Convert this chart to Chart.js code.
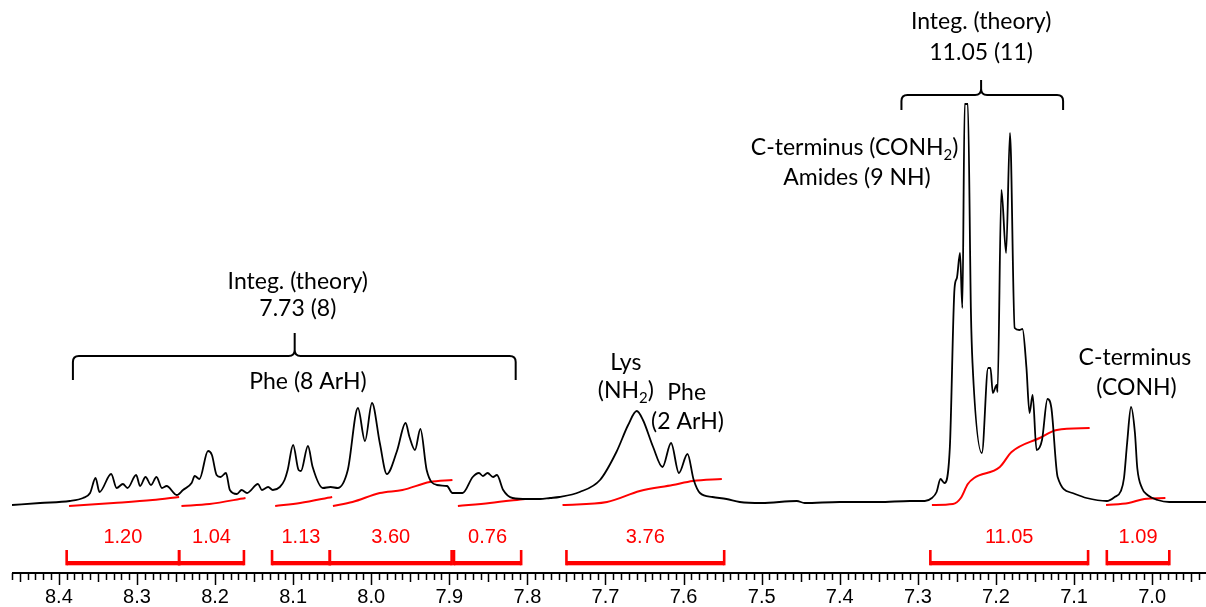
<!DOCTYPE html>
<html>
<head>
<meta charset="utf-8">
<script src="https://cdn.jsdelivr.net/npm/chart.js@4.4.0/dist/chart.umd.min.js"></script>
<style>
  html, body { margin: 0; padding: 0; background: #fff; }
  #wrap { width: 1206px; height: 607px; }
</style>
</head>
<body>
<div id="wrap"><canvas id="nmr"></canvas></div>
<script>
// 1H NMR trace: chemical shift (ppm) and intensity (a.u.)
const shiftPpm = [8.460, 8.424, 8.386, 8.369, 8.360, 8.353, 8.348, 8.333, 8.326, 8.318, 8.312, 8.301, 8.296, 8.289, 8.282, 8.275, 8.268, 8.262, 8.249, 8.241,
  8.230, 8.226, 8.220, 8.209, 8.204, 8.198, 8.193, 8.186, 8.181, 8.172, 8.166, 8.159, 8.145, 8.140, 8.132, 8.126, 8.117, 8.111, 8.107, 8.100,
  8.093, 8.090, 8.081, 8.075, 8.062, 8.052, 8.043, 8.030, 8.017, 8.008, 7.999, 7.989, 7.980, 7.967, 7.956, 7.951, 7.944, 7.937, 7.929, 7.916,
  7.903, 7.896, 7.883, 7.870, 7.862, 7.857, 7.851, 7.844, 7.839, 7.831, 7.819, 7.800, 7.784, 7.771, 7.759, 7.733, 7.707, 7.686, 7.671, 7.660,
  7.652, 7.639, 7.627, 7.616, 7.606, 7.595, 7.587, 7.579, 7.563, 7.545, 7.528, 7.500, 7.455, 7.445, 7.400, 7.350, 7.310, 7.291, 7.282, 7.276,
  7.271, 7.266, 7.259, 7.253, 7.250, 7.246, 7.243, 7.240, 7.236, 7.232, 7.230, 7.218, 7.210, 7.207, 7.204, 7.199, 7.198, 7.193, 7.187, 7.182,
  7.176, 7.170, 7.166, 7.161, 7.157, 7.153, 7.148, 7.141, 7.134, 7.129, 7.121, 7.102, 7.084, 7.058, 7.048, 7.040, 7.036, 7.032, 7.027, 7.022,
  7.019, 7.013, 7.006, 6.993, 6.978, 6.931];
const intensity = [-2, 0, 2, 5, 10, 25, 11, 29, 15, 19, 15, 28, 17, 26, 18, 26, 15, 17, 8, 13,
  20, 27, 24, 52, 48, 28, 26, 30, 13, 9, 13, 10, 19, 13, 16, 13, 16, 23, 33, 58,
  33, 32, 57, 36, 15, 16, 15, 33, 95, 62, 100, 60, 29, 52, 80, 66, 53, 74, 33, 18,
  17, 10, 10, 26, 30, 27, 30, 26, 28, 13, 5, 4, 4, 5, 6, 11, 23, 51, 78, 92,
  83, 56, 36, 60, 30, 49, 23, 10, 6, 4, 1, 0, 2, 0, 1, 1, 2, 2, 5, 11,
  24, 20, 56, 215, 225, 250, 195, 399, 399, 190, 140, 50, 135, 135, 110, 118, 111, 313, 250, 370,
  175, 173, 174, 136, 90, 108, 53, 63, 104, 95, 26, 10, 5, 2, 6, 12, 25, 60, 96, 70,
  35, 15, 8, 3, 1, 1];

// integral curves [ppm, value]
const integ120 = [[8.387, -3], [8.330, 0], [8.280, 3], [8.246, 6]];
const integ104 = [[8.243, -3], [8.207, -1], [8.161, 5]];
const integ113 = [[8.123, -3], [8.091, 0], [8.050, 6]];
const integ360 = [[8.049, -3], [8.024, 1], [7.989, 10], [7.960, 13], [7.925, 21], [7.896, 23]];
const integ076 = [[7.889, -3], [7.848, 0], [7.803, 4]];
const integ376 = [[7.755, -2], [7.698, 1], [7.656, 12], [7.614, 18], [7.588, 22], [7.551, 24]];
const integ1105 = [[7.282, -2], [7.255, -1], [7.245, 5], [7.236, 19], [7.228, 25], [7.195, 36], [7.180, 51], [7.144, 65], [7.122, 73], [7.080, 75]];
const integ109 = [[7.059, -2], [7.030, 0], [7.010, 4], [6.983, 5]];

// integration ranges and their values
const integLabels = ['1.20', '1.04', '1.13', '3.60', '0.76', '3.76', '11.05', '1.09'];
const integFrom = [8.390, 8.246, 8.127, 8.053, 7.894, 7.750, 7.284, 7.058];
const integTo = [8.246, 8.163, 8.053, 7.897, 7.808, 7.548, 7.082, 6.978];

const axisTicks = [8.4, 8.3, 8.2, 8.1, 8.0, 7.9, 7.8, 7.7, 7.6, 7.5, 7.4, 7.3, 7.2, 7.1, 7.0];

const RED = '#ff0000';
const NOTE_FONT = 'Lato';

// text notes, positioned in data units
const notes = [
  { parts: [{ t: 'Integ. (theory)' }], ppm: 8.094, val: 221 },
  { parts: [{ t: '7.73 (8)' }], ppm: 8.094, val: 194 },
  { parts: [{ t: 'Phe (8 ArH)' }], ppm: 8.081, val: 121 },
  { parts: [{ t: 'Integ. (theory)' }], ppm: 7.219, val: 481 },
  { parts: [{ t: '11.05 (11)' }], ppm: 7.219, val: 450 },
  { parts: [{ t: 'C-terminus (CONH' }, { t: '2', sub: true }, { t: ')' }], ppm: 7.381, val: 355 },
  { parts: [{ t: 'Amides (9 NH)' }], ppm: 7.378, val: 325 },
  { parts: [{ t: 'C-terminus' }], ppm: 7.022, val: 145 },
  { parts: [{ t: '(CONH)' }], ppm: 7.020, val: 115 },
  { parts: [{ t: 'Lys' }], ppm: 7.674, val: 140 },
  { parts: [{ t: '(NH' }, { t: '2', sub: true }, { t: ')' }], ppm: 7.674, val: 112 },
  { parts: [{ t: 'Phe' }], ppm: 7.596, val: 110 },
  { parts: [{ t: '(2 ArH)' }], ppm: 7.595, val: 81 }
];

const braces = [
  { from: 8.382, to: 7.815, tip: 8.098, line: 147, ends: 123, top: 170 },
  { from: 7.321, to: 7.114, tip: 7.219, line: 408, ends: 393, top: 423 }
];

function toPoints(arr) {
  return arr.map(([p, v]) => ({ x: p, y: v }));
}

function drawRich(ctx, parts, cx, cy, size) {
  let w = 0;
  parts.forEach(p => {
    ctx.font = (p.sub ? size * 0.65 : size) + 'px ' + NOTE_FONT;
    w += ctx.measureText(p.t).width;
  });
  let xx = cx - w / 2;
  parts.forEach(p => {
    ctx.font = (p.sub ? size * 0.65 : size) + 'px ' + NOTE_FONT;
    ctx.fillText(p.t, xx, cy + (p.sub ? size * 0.3 : 0));
    xx += ctx.measureText(p.t).width;
  });
}

const nmrDecor = {
  id: 'nmrDecor',
  afterDraw(chart) {
    const { ctx, chartArea } = chart;
    const x = chart.scales.x, y = chart.scales.y;
    ctx.save();

    // axis line and ticks
    ctx.strokeStyle = '#000';
    ctx.lineWidth = 2;
    ctx.beginPath();
    ctx.moveTo(chartArea.left, chartArea.bottom);
    ctx.lineTo(chartArea.right, chartArea.bottom);
    ctx.stroke();
    ctx.lineWidth = 1.5;
    ctx.beginPath();
    for (let k = Math.ceil(x.min * 100); k <= Math.floor(x.max * 100); k++) {
      const px = Math.round(x.getPixelForValue(k / 100)) + 0.5;
      const len = k % 10 === 0 ? 12 : (k % 5 === 0 ? 9 : 7);
      ctx.moveTo(px, chartArea.bottom);
      ctx.lineTo(px, chartArea.bottom + len);
    }
    ctx.stroke();

    // integration brackets
    ctx.fillStyle = RED;
    ctx.textAlign = 'center';
    ctx.textBaseline = 'middle';
    const yBar = y.getPixelForValue(-60), yEnd = y.getPixelForValue(-47), yLab = y.getPixelForValue(-34);
    integFrom.forEach((f, i) => {
      const a = x.getPixelForValue(f), b = x.getPixelForValue(integTo[i]);
      ctx.fillRect(a, yBar - 2, b - a, 4.3);
      ctx.fillRect(a - 1.3, yEnd, 2.6, yBar + 2.3 - yEnd);
      ctx.fillRect(b - 1.3, yEnd, 2.6, yBar + 2.3 - yEnd);
      ctx.font = '20px "Liberation Sans", Arial';
      ctx.fillText(integLabels[i], (a + b) / 2, yLab);
    });

    // braces
    ctx.strokeStyle = '#000';
    ctx.lineWidth = 2;
    braces.forEach(b => {
      const L = x.getPixelForValue(b.from), R = x.getPixelForValue(b.to), C = x.getPixelForValue(b.tip);
      const yl = y.getPixelForValue(b.line), ye = y.getPixelForValue(b.ends), yt = y.getPixelForValue(b.top);
      const r = 6;
      ctx.beginPath();
      ctx.moveTo(L, ye);
      ctx.lineTo(L, yl + r);
      ctx.quadraticCurveTo(L, yl, L + r, yl);
      ctx.lineTo(C - r, yl);
      ctx.quadraticCurveTo(C, yl, C, yl - r);
      ctx.lineTo(C, yt);
      ctx.moveTo(C, yl - r);
      ctx.quadraticCurveTo(C, yl, C + r, yl);
      ctx.lineTo(R - r, yl);
      ctx.quadraticCurveTo(R, yl, R, yl + r);
      ctx.lineTo(R, ye);
      ctx.stroke();
    });

    // notes
    ctx.fillStyle = '#000';
    ctx.textAlign = 'left';
    notes.forEach(n => {
      drawRich(ctx, n.parts, x.getPixelForValue(n.ppm), y.getPixelForValue(n.val), 23);
    });
    ctx.restore();
  }
};

const integCurves = [integ120, integ104, integ113, integ360, integ076, integ376, integ1105, integ109];

const datasets = [{
  label: 'spectrum',
  data: shiftPpm.map((p, i) => ({ x: p, y: intensity[i] })),
  borderColor: '#000',
  borderWidth: 1.8,
  cubicInterpolationMode: 'monotone',
  pointRadius: 0,
  fill: false
}].concat(integCurves.map((c, i) => ({
  label: 'integral ' + integLabels[i],
  data: toPoints(c),
  borderColor: RED,
  borderWidth: 2,
  cubicInterpolationMode: 'monotone',
  pointRadius: 0,
  fill: false
})));

new Chart(document.getElementById('nmr').getContext('2d'), {
  type: 'line',
  data: { datasets: datasets },
  options: {
    responsive: true,
    maintainAspectRatio: false,
    animation: false,
    layout: { padding: { left: 12, right: 0, top: 0, bottom: 0 } },
    plugins: { legend: { display: false }, tooltip: { enabled: false } },
    scales: {
      x: {
        type: 'linear',
        reverse: true,
        min: 6.931,
        max: 8.46,
        afterBuildTicks: scale => { scale.ticks = axisTicks.map(v => ({ value: v })); },
        afterFit: scale => { scale.height = 34; },
        border: { display: false },
        grid: { drawOnChartArea: false, drawTicks: true, tickLength: 8, tickColor: 'rgba(0,0,0,0)' },
        ticks: {
          autoSkip: false,
          maxRotation: 0,
          padding: 4,
          color: '#000',
          font: { family: '"Liberation Sans", Arial', size: 20 },
          callback: v => Number(v).toFixed(1)
        }
      },
      y: {
        display: false,
        min: -70,
        max: 503
      }
    }
  },
  plugins: [nmrDecor]
});
</script>
</body>
</html>
